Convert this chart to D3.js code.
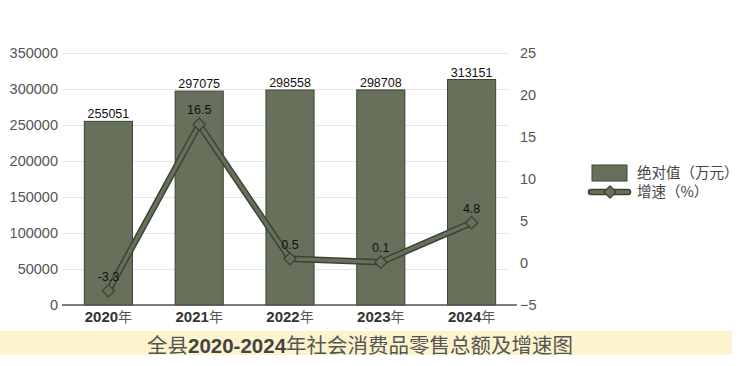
<!DOCTYPE html>
<html>
<head>
<meta charset="utf-8">
<script src="https://cdn.jsdelivr.net/npm/d3@7"></script>
<style>
  body { margin: 0; background: #fff; }
  svg { display: block; font-family: "Liberation Sans", Arial, "Noto Sans CJK SC", sans-serif; }
</style>
</head>
<body>
<svg width="756" height="366"></svg>
<script>
// data
const years = ["2020", "2021", "2022", "2023", "2024"];
const totals = [255051, 297075, 298558, 298708, 313151]; // 万元
const growth = [-3.3, 16.5, 0.5, 0.1, 4.8]; // %
const leftTicks = [0, 50000, 100000, 150000, 200000, 250000, 300000, 350000];
const rightTicks = [-5, 0, 5, 10, 15, 20, 25];
const legendNames = ["绝对值（万元）", "增速（%）"];
const titleParts = ["全县", "2020-2024", "年社会消费品零售总额及增速图"];

let svg = d3.select("svg");

const barFill = "#66705a",
    darkGreen = "#3b4433";

// plot area
const plotLeft = 62, plotRight = 517, plotTop = 53, plotBottom = 305;

let x = d3.scaleBand().domain(years).range([plotLeft + 1, plotRight]).paddingInner(0.47).paddingOuter(0.235);
let yL = d3.scaleLinear().domain([0, 350000]).range([plotBottom, plotTop]);
let yR = d3.scaleLinear().domain([-5, 25]).range([plotBottom, plotTop]);

// left axis with grid lines
let gLeft = svg.append("g")
    .attr("transform", `translate(${plotLeft},0)`)
    .call(d3.axisLeft(yL).tickValues(leftTicks).tickSize(-(plotRight - plotLeft - 8)).tickPadding(4).tickFormat(d3.format("d")));
gLeft.select(".domain").remove();
gLeft.selectAll(".tick line").attr("stroke", "#e6e6e6");
gLeft.selectAll(".tick text").attr("fill", "#555").style("font-size", "14.5px");

// right axis
let gRight = svg.append("g")
    .attr("transform", `translate(${plotRight},0)`)
    .call(d3.axisRight(yR).tickValues(rightTicks).tickSize(0).tickPadding(3));
gRight.select(".domain").remove();
gRight.selectAll(".tick text").attr("fill", "#555").style("font-size", "14.5px");

// bars
svg.append("g").selectAll("rect")
    .data(totals)
    .enter().append("rect")
    .attr("x", (d, i) => x(years[i]))
    .attr("y", d => yL(d))
    .attr("width", x.bandwidth())
    .attr("height", d => plotBottom - yL(d))
    .attr("fill", barFill)
    .attr("stroke", darkGreen)
    .attr("stroke-width", 1);

svg.append("g").selectAll("text")
    .data(totals)
    .enter().append("text")
    .attr("x", (d, i) => x(years[i]) + x.bandwidth() / 2)
    .attr("y", d => yL(d) - 3)
    .attr("text-anchor", "middle")
    .attr("fill", "#111")
    .style("font-size", "12.5px")
    .text(d => d);

// baseline
svg.append("line")
    .attr("x1", plotLeft).attr("x2", plotRight)
    .attr("y1", plotBottom).attr("y2", plotBottom)
    .attr("stroke", "#555").attr("stroke-width", 1.5);

// x labels
let xl = svg.append("g").selectAll("text")
    .data(years)
    .enter().append("text")
    .attr("x", d => x(d) + x.bandwidth() / 2)
    .attr("y", 322)
    .attr("text-anchor", "middle")
    .attr("fill", "#333")
    .style("font-size", "15px");
xl.append("tspan").attr("font-weight", "bold").text(d => d);
xl.append("tspan").attr("font-family", "Noto Sans CJK SC").style("font-size", "14px").attr("fill", "#555").text("年");

// growth line (outlined)
let line = d3.line()
    .x((d, i) => x(years[i]) + x.bandwidth() / 2)
    .y(d => yR(d));

svg.append("path").datum(growth)
    .attr("d", line).attr("fill", "none")
    .attr("stroke", darkGreen).attr("stroke-width", 6.5).attr("stroke-linejoin", "miter");
svg.append("path").datum(growth)
    .attr("d", line).attr("fill", "none")
    .attr("stroke", barFill).attr("stroke-width", 3.5).attr("stroke-linejoin", "miter");

let diamond = d3.symbol().type(d3.symbolSquare).size(75);
svg.append("g").selectAll("path")
    .data(growth)
    .enter().append("path")
    .attr("d", diamond)
    .attr("transform", (d, i) => `translate(${x(years[i]) + x.bandwidth() / 2},${yR(d)}) rotate(45)`)
    .attr("fill", barFill)
    .attr("stroke", darkGreen)
    .attr("stroke-width", 1.3);

svg.append("g").selectAll("text")
    .data(growth)
    .enter().append("text")
    .attr("x", (d, i) => x(years[i]) + x.bandwidth() / 2)
    .attr("y", d => yR(d) - 10)
    .attr("text-anchor", "middle")
    .attr("fill", "#111")
    .style("font-size", "12.5px")
    .text(d => d);

// legend
let legend = svg.append("g");
legend.append("rect")
    .attr("x", 592).attr("y", 165).attr("width", 35).attr("height", 16)
    .attr("fill", barFill).attr("stroke", darkGreen);
legend.append("line")
    .attr("x1", 591).attr("x2", 628).attr("y1", 192).attr("y2", 192)
    .attr("stroke", darkGreen).attr("stroke-width", 6.5).attr("stroke-linecap", "round");
legend.append("line")
    .attr("x1", 591).attr("x2", 628).attr("y1", 192).attr("y2", 192)
    .attr("stroke", barFill).attr("stroke-width", 3.5).attr("stroke-linecap", "round");
legend.append("path")
    .attr("d", diamond)
    .attr("transform", "translate(610,192) rotate(45)")
    .attr("fill", barFill).attr("stroke", darkGreen).attr("stroke-width", 1.3);
legend.selectAll("text")
    .data(legendNames)
    .enter().append("text")
    .attr("x", 637)
    .attr("y", (d, i) => 178 + i * 19)
    .attr("fill", "#444")
    .attr("font-family", "Noto Sans CJK SC")
    .style("font-size", "14.5px")
    .text(d => d);

// title band
svg.append("rect")
    .attr("x", 0).attr("y", 331).attr("width", 732).attr("height", 24)
    .attr("fill", "#fdf3cd");
let title = svg.append("text")
    .attr("x", 147).attr("y", 353)
    .attr("fill", "#555")
    .attr("font-family", "Noto Sans CJK SC")
    .style("font-size", "20.5px");
title.selectAll("tspan")
    .data(titleParts)
    .enter().append("tspan")
    .attr("font-weight", (d, i) => i === 1 ? "bold" : "normal")
    .attr("fill", (d, i) => i === 1 ? "#444" : "#555")
    .attr("font-family", (d, i) => i === 1 ? "Liberation Sans" : "Noto Sans CJK SC")
    .text(d => d);
</script>
</body>
</html>
